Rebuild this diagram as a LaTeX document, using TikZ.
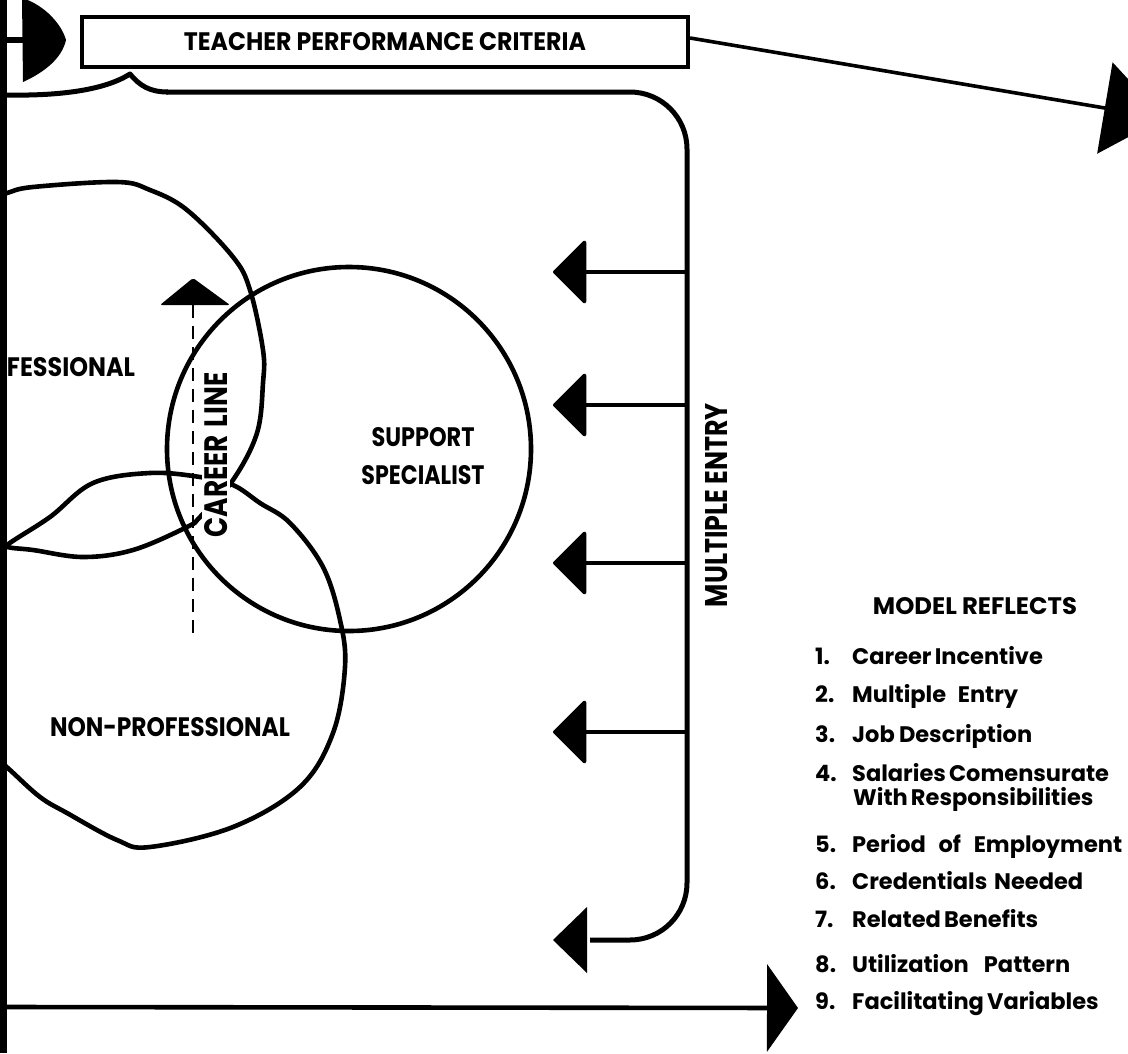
\documentclass[tikz,border=0pt]{standalone}
\usepackage{fontspec}
\usepackage{graphicx}
\setmainfont{Poppins}
\newcommand{\medfont}{\bfseries}
\newcommand{\heavyfont}{\bfseries}
\usetikzlibrary{arrows.meta}
\newcommand{\fitb}[3]{\resizebox{#1pt}{#2pt}{#3}}
\tikzset{
  blob/.style={line width=4.6pt, line join=round, line cap=round},
  brk/.style={line width=5pt, line join=round},
  sidearrow/.style={line width=3.5pt, -{Triangle[length=34pt,width=67pt,round]}},
  lbl/.style={inner sep=0pt, text=black},
  listtxt/.style={inner sep=0pt, font=\bfseries\fontsize{22.5pt}{26pt}\selectfont, anchor=base west},
}
\begin{document}
\begin{tikzpicture}[x=1pt,y=-1pt]
\useasboundingbox (0,0) rectangle (1128,1053);
\clip (0,0) rectangle (1128,1053);
\fill[white] (0,0) rectangle (1128,1053);

% circles
\draw[blob] plot[smooth, tension=0.6] coordinates {(-10,198) (7,193) (33,187) (117,182) (150,190) (187,210) (233,257) (250,290) (263,350) (263,383) (257,433) (233,480) (200,517) (187,527) (133,550) (83,557) (33,550) (7,547) (-10,540)};
\draw[blob] plot[smooth, tension=0.6] coordinates {(-10,562) (7,545) (50,517) (93,483) (150,473) (200,477) (233,485) (260,503) (290,523) (323,567) (340,620) (345,667) (333,733) (300,787) (233,827) (150,847) (117,840) (67,813) (40,797) (10,770) (-10,752)};
\draw[blob] (349,449) circle (182);

% labels in circles
\node[lbl] (prof) at (71,367) {\fitb{128}{19}{\medfont FESSIONAL}};
\node[lbl] (nonprof) at (170,727) {\fitb{240}{19}{\medfont NON-PROFESSIONAL}};
\node[lbl] (supp) at (423,437) {\fitb{103}{19}{\medfont SUPPORT}};
\node[lbl] (spec) at (423,475) {\fitb{123}{19}{\medfont SPECIALIST}};
\node[lbl, fill=white, inner sep=2pt, rotate=90] (career) at (216,455) {\fitb{165}{23}{\heavyfont CAREER\hspace{0.3em}LINE}};

% career line (dashed, arrow up)
\coordinate (cbot) at (193,633);
\coordinate (cbase) at (193,304);
\draw[line width=2.4pt, dash pattern=on 13pt off 8pt] (cbot) -- (cbase);
\fill[rounded corners=2pt] (160,305) -- (193,278) -- (230,305) -- cycle;

% left edge bar and top-left arrow
\fill (0,0) rectangle (7,1053);
\coordinate (lin) at (7,40);
\coordinate (lhead) at (23,40);
\draw[line width=6pt] (lin) -- (lhead);
\fill (22,-2) .. controls (45,5) and (62,25) .. (66,40) .. controls (62,58) and (45,72) .. (23,82) -- cycle;

% Teacher performance criteria box
\node[lbl, draw, line width=4.2pt, minimum width=606pt, minimum height=50pt] (tpc) at (385,42) {\fitb{402}{18}{\medfont TEACHER PERFORMANCE CRITERIA}};
\coordinate (trtip) at (1164,118);
\draw[line width=3.6pt, -{Triangle[length=60pt,width=92pt]}] ([yshift=4pt]tpc.east) -- (trtip);

% brace and big bracket
\coordinate (bstart) at (7,95);
\coordinate (bpeak) at (130,74);
\coordinate (bcorner) at (687,92);
\coordinate (bbot) at (687,940);
\coordinate (bend) at (553,940);
\draw[brk] (bstart) .. controls (60,96) and (105,90) .. (bpeak) .. controls (140,86) and (150,92) .. (168,92);
\draw[brk, rounded corners=57pt] (166,92) -- (bcorner) -- (bbot) -- (590,940);
\fill (587,907) -- (553,940) -- (587,973) -- cycle;

% multiple entry arrows
\foreach \i/\yy in {1/272, 2/405, 3/563, 4/732} {
  \coordinate (v\i) at (687,\yy);
  \coordinate (t\i) at (553,\yy);
  \draw[sidearrow] (v\i) -- (t\i);
}
\node[lbl, rotate=90] (multi) at (717,505) {\fitb{204}{22}{\heavyfont MULTIPLE ENTRY}};

% bottom arrow
\coordinate (bl) at (7,1007);
\coordinate (br) at (798,1008);
\draw[line width=4.6pt, -{Triangle[length=31pt,width=87pt]}] (bl) -- (br);

% model reflects list
\node[lbl] (model) at (975,606) {\fitb{204}{17}{\heavyfont MODEL REFLECTS}};
\foreach \n/\yy/\w/\t in {1/664/186/Career Incentive, 2/702/166/Multiple Entry, 3/742/180/Job Description, 4/781/251/Salaries Comensurate, 5/852/270/Period of Employment, 6/889/231/Credentials Needed, 7/927/185/Related Benefits, 8/972/218/Utilization Pattern, 9/1009/238/Facilitating Variables} {
  \node[listtxt] (num\n) at (815,\yy) {\n.};
  \node[listtxt] (item\n) at (852,\yy) {\makebox[\w pt][s]{\t}};
}
\node[listtxt] (item4b) at (853,805) {\makebox[232pt][s]{With Responsibilities}};
\end{tikzpicture}
\end{document}
